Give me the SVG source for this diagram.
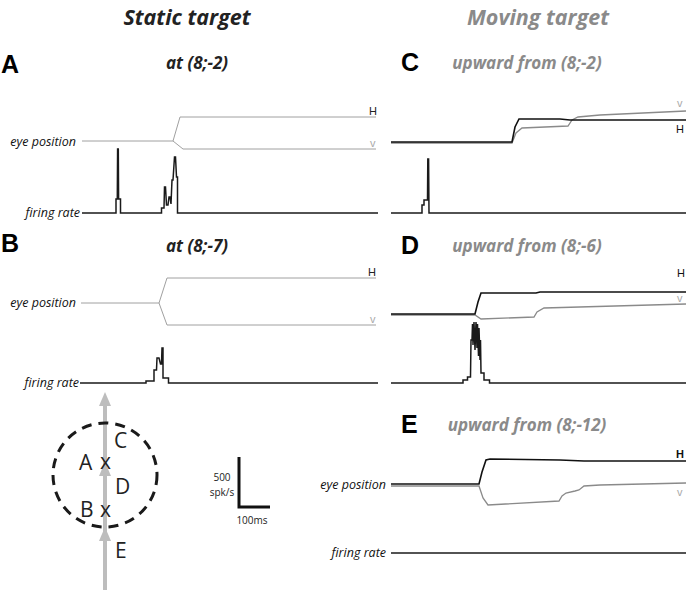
<svg xmlns="http://www.w3.org/2000/svg" width="696" height="590" viewBox="0 0 696 590">
<style>
.title{font-family:"Open Sans","Liberation Sans",sans-serif;font-weight:bold;font-style:italic;font-size:21.5px;text-anchor:middle}
.letter{font-family:"Liberation Sans",Arial,sans-serif;font-weight:bold;font-size:25px}
.sub{font-family:"Open Sans","Liberation Sans",sans-serif;font-weight:bold;font-style:italic;font-size:17px;text-anchor:middle}
.lab{font-family:"Open Sans","Liberation Sans",sans-serif;font-style:italic;font-size:12.5px;fill:#111;text-anchor:end}
.hv{font-family:"Liberation Sans",Arial,sans-serif;font-size:11px}
.thin{fill:none;stroke:#a0a0a0;stroke-width:1}
.fr{fill:none;stroke:#1a1a1a;stroke-width:1.5;stroke-linejoin:miter}
.eh{fill:none;stroke:#111;stroke-width:1.6}
.ev{fill:none;stroke:#8a8a8a;stroke-width:1.3}
.gray{fill:#8a8a8a}
.dia{font-family:"Open Sans","Liberation Sans",sans-serif;font-size:21px;fill:#222}
.scl{font-family:"Open Sans","Liberation Sans",sans-serif;font-size:10px;fill:#222;text-anchor:middle}
</style>
<rect width="696" height="590" fill="#fff"/>
<text class="title" x="187" y="25" fill="#222">Static target</text>
<text class="title" x="538" y="25" fill="#8a8a8a">Moving target</text>

<g id="panelA">
<text class="letter" x="1" y="73">A</text>
<text class="sub" x="197" y="69" fill="#222">at (8;-2)</text>
<text class="lab" x="76" y="146">eye position</text>
<polyline class="thin" points="82,141 173,141 180,117 376,117"/>
<polyline class="thin" points="173,141 183,149 376,149"/>
<text class="hv" x="369" y="115" fill="#222">H</text>
<text class="hv" x="370" y="147" fill="#aaa" font-size="9">v</text>
<text class="lab" x="80" y="217">firing rate</text>
<polyline class="fr" points="82,213 116,213 116,199 117.3,199 117.6,149 118.3,149 118.6,199 120.5,199 120.5,213 161.5,213 161.5,208 164,208 164.5,187 165.5,187 166.5,205 168,205 169,197 170,197 171,204 172,180 173,180 174.5,157 175.5,157 176.5,177 177.5,177 177.5,213 378,213"/>
</g>

<g id="panelB">
<text class="letter" x="1" y="252">B</text>
<text class="sub" x="197" y="252" fill="#222">at (8;-7)</text>
<text class="lab" x="76" y="307">eye position</text>
<polyline class="thin" points="81,303 159,303 167,278 376,278"/>
<polyline class="thin" points="159,303 167,325 376,325"/>
<text class="hv" x="368" y="276" fill="#222">H</text>
<text class="hv" x="370" y="323" fill="#aaa" font-size="9">v</text>
<text class="lab" x="79" y="387">firing rate</text>
<polyline class="fr" points="80,383 146,383 146,381 154,381 154,370 156.5,370 157,358 159,358 160.5,364 161.5,364 162,348 163,348 163,378 168.5,378 168.5,383 378,383"/>
</g>

<g id="panelC">
<text class="letter" x="401" y="71">C</text>
<text class="sub gray" x="527" y="69">upward from (8;-2)</text>
<polyline class="ev" points="391,143 512,143 516,133 522,128 568,126 572,120 578,117 600,115 686,111"/>
<polyline class="eh" points="391,142 512,142 515,127 519,119 560,119 570,120 686,120"/>
<text class="hv" x="677" y="107" fill="#aaa" font-size="9">v</text>
<text class="hv" x="676" y="133" fill="#111">H</text>
<polyline class="fr" points="391,213 422,213 422,205 424,205 424,200 427.5,200 427.8,159 428.6,159 429,213 686,213"/>
</g>

<g id="panelD">
<text class="letter" x="401" y="254">D</text>
<text class="sub gray" x="527" y="252">upward from (8;-6)</text>
<polyline class="ev" points="391,315 475,315 481,319 534,317 537,312 544,308 686,304"/>
<polyline class="eh" points="391,314 475,314 478,302 481,293 536,293 540,292 686,292"/>
<text class="hv" x="677" y="277" fill="#111">H</text>
<text class="hv" x="677" y="302" fill="#aaa" font-size="9">v</text>
<polyline class="fr" points="391,383 463,383 463,380 467.5,380 467.5,377 470.5,377 471,340 472,340 472.5,324 473,345 474,322 475,350 476,322 477,348 477.5,324 478.5,356 479,328 480,360 480.5,340 481,373 484,373 484,380 489.5,380 489.5,383 686,383"/>
</g>

<g id="panelE">
<text class="letter" x="401" y="433">E</text>
<text class="sub gray" x="527" y="431">upward from (8;-12)</text>
<text class="lab" x="386" y="489">eye position</text>
<polyline class="ev" points="391,486 479,486 483,498 488,505 559,501 562,496 566,493 575,491 579,490 584,486 600,485 686,483"/>
<polyline class="eh" points="391,484 479,484 482,472 486,460 490,459 560,460 584,461 686,461"/>
<text class="hv" x="676" y="458" fill="#111" font-weight="bold">H</text>
<text class="hv" x="677" y="496" fill="#aaa" font-size="9">v</text>
<text class="lab" x="386" y="557">firing rate</text>
<line class="fr" x1="391" y1="553" x2="686" y2="553"/>
</g>

<g id="connectors">
<line x1="105" y1="590" x2="105" y2="400" stroke="#bdbdbd" stroke-width="4"/>
<polygon points="105,392 99,406 111,406" fill="#bdbdbd"/>
<polygon points="105,462 99,476 111,476" fill="#bdbdbd"/>
<polygon points="105,527 99,541 111,541" fill="#bdbdbd"/>
</g>

<g id="fieldDiagram">
<circle cx="105" cy="475" r="52" fill="none" stroke="#1a1a1a" stroke-width="3" stroke-dasharray="10 7"/>
<text class="dia" x="114" y="448">C</text>
<text class="dia" x="79" y="470">A</text>
<text class="dia" x="100" y="469" font-size="18">x</text>
<text class="dia" x="115" y="494">D</text>
<text class="dia" x="80" y="517">B</text>
<text class="dia" x="100" y="517" font-size="18">x</text>
<text class="dia" x="115" y="558">E</text>
</g>

<g id="scalebar">
<polyline points="239,457 239,507 270,507" fill="none" stroke="#111" stroke-width="3"/>
<text class="scl" x="222" y="481">500</text>
<text class="scl" x="222" y="496">spk/s</text>
<text class="scl" x="252" y="524">100ms</text>
</g>
</svg>
